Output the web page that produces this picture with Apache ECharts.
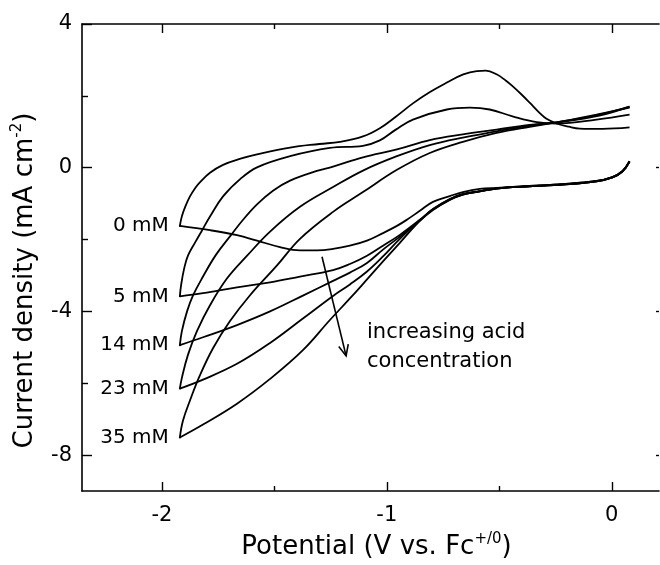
<!DOCTYPE html>
<html>
<head>
<meta charset="utf-8">
<script src="https://cdn.jsdelivr.net/npm/echarts@6/dist/echarts.min.js"></script>
<style>html,body{margin:0;padding:0;background:#fff}#c{width:660px;height:565px}</style>
</head>
<body>
<div id="c"></div>
<script>
const FONT = 'DejaVu Sans';

// ticks
const xTickValues = [-2, -1, 0];
const xMinorTicks = [-1.5, -0.5];
const yTickValues = [-8, -4, 0, 4];
const yMinorTicks = [-6, -2, 2];
const yRightTicks = [-8, -4, 0];

// curve labels
const concentrations = ['0 mM', '5 mM', '14 mM', '23 mM', '35 mM'];

// 0 mM : forward (cathodic) and reverse (anodic) scans
const fwdV_0 = [0.079, 0.047, 0.003, -0.068, -0.219, -0.365, -0.512, -0.587, -0.662, -0.720, -0.795, -0.853, -0.911, -0.955, -1.017, -1.088, -1.164, -1.239, -1.311, -1.386, -1.475, -1.577, -1.666, -1.786, -1.920];
const fwdJ_0 = [0.18, -0.10, -0.26, -0.37, -0.46, -0.51, -0.56, -0.59, -0.68, -0.79, -0.95, -1.20, -1.45, -1.62, -1.82, -2.03, -2.17, -2.26, -2.30, -2.30, -2.21, -2.03, -1.88, -1.74, -1.62];
const revV_0 = [-1.920, -1.911, -1.895, -1.875, -1.850, -1.830, -1.786, -1.728, -1.650, -1.577, -1.430, -1.300, -1.208, -1.106, -1.031, -0.960, -0.884, -0.810, -0.733, -0.660, -0.600, -0.560, -0.512, -0.470, -0.441, -0.400, -0.365, -0.320, -0.290, -0.245, -0.190, -0.143, -0.041, 0.079];
const revJ_0 = [-1.62, -1.35, -1.07, -0.80, -0.55, -0.40, -0.14, 0.08, 0.25, 0.37, 0.56, 0.66, 0.72, 0.87, 1.10, 1.42, 1.79, 2.10, 2.37, 2.60, 2.69, 2.70, 2.60, 2.42, 2.27, 2.03, 1.81, 1.52, 1.36, 1.23, 1.14, 1.09, 1.08, 1.12];

// 5 mM
const fwdV_5 = [0.079, 0.047, 0.003, -0.068, -0.219, -0.365, -0.512, -0.587, -0.662, -0.720, -0.795, -0.853, -0.942, -1.017, -1.088, -1.164, -1.239, -1.386, -1.519, -1.666, -1.817, -1.920];
const fwdJ_5 = [0.18, -0.10, -0.26, -0.37, -0.46, -0.51, -0.57, -0.65, -0.73, -0.87, -1.15, -1.45, -1.87, -2.17, -2.45, -2.68, -2.85, -3.03, -3.19, -3.33, -3.49, -3.58];
const revV_5 = [-1.920, -1.914, -1.901, -1.884, -1.852, -1.821, -1.786, -1.728, -1.652, -1.577, -1.430, -1.253, -1.106, -1.031, -0.960, -0.884, -0.733, -0.631, -0.543, -0.441, -0.334, -0.245, -0.068, 0.079];
const revJ_5 = [-3.58, -3.25, -2.81, -2.45, -2.08, -1.74, -1.36, -0.80, -0.32, 0.01, 0.32, 0.55, 0.61, 0.76, 1.06, 1.34, 1.62, 1.67, 1.62, 1.43, 1.27, 1.23, 1.34, 1.48];

// 14 mM
const fwdV_14 = [0.079, 0.047, 0.003, -0.068, -0.219, -0.365, -0.512, -0.587, -0.662, -0.720, -0.795, -0.853, -0.942, -1.017, -1.088, -1.164, -1.239, -1.373, -1.519, -1.666, -1.817, -1.920];
const fwdJ_14 = [0.17, -0.11, -0.27, -0.38, -0.47, -0.52, -0.58, -0.66, -0.74, -0.88, -1.16, -1.46, -1.92, -2.28, -2.65, -2.92, -3.15, -3.56, -4.00, -4.38, -4.72, -4.94];
const revV_14 = [-1.920, -1.911, -1.888, -1.861, -1.817, -1.759, -1.692, -1.639, -1.577, -1.506, -1.430, -1.311, -1.239, -1.106, -0.955, -0.809, -0.662, -0.512, -0.365, -0.245, -0.068, 0.079];
const revJ_14 = [-4.94, -4.55, -4.00, -3.55, -3.03, -2.42, -1.87, -1.45, -1.02, -0.64, -0.36, -0.09, 0.03, 0.29, 0.51, 0.77, 0.93, 1.06, 1.19, 1.26, 1.48, 1.67];

// 23 mM
const fwdV_23 = [0.079, 0.047, 0.003, -0.068, -0.219, -0.365, -0.512, -0.587, -0.662, -0.720, -0.795, -0.853, -0.942, -1.017, -1.088, -1.164, -1.239, -1.373, -1.519, -1.666, -1.817, -1.920];
const fwdJ_23 = [0.17, -0.11, -0.27, -0.38, -0.47, -0.52, -0.58, -0.66, -0.75, -0.89, -1.17, -1.47, -1.98, -2.47, -2.89, -3.25, -3.57, -4.20, -4.88, -5.46, -5.90, -6.15];
const revV_23 = [-1.920, -1.911, -1.884, -1.844, -1.786, -1.710, -1.621, -1.519, -1.386, -1.239, -1.106, -0.955, -0.809, -0.662, -0.512, -0.365, -0.245, -0.055, 0.079];
const revJ_23 = [-6.15, -5.85, -5.21, -4.55, -3.83, -3.08, -2.45, -1.78, -1.09, -0.54, -0.08, 0.32, 0.63, 0.84, 1.01, 1.17, 1.26, 1.45, 1.70];

// 35 mM
const fwdV_35 = [0.079, 0.047, 0.003, -0.068, -0.219, -0.365, -0.512, -0.587, -0.662, -0.720, -0.795, -0.853, -0.942, -1.017, -1.088, -1.164, -1.253, -1.373, -1.519, -1.666, -1.817, -1.920];
const fwdJ_35 = [0.17, -0.11, -0.27, -0.38, -0.47, -0.52, -0.58, -0.66, -0.75, -0.90, -1.18, -1.48, -2.09, -2.61, -3.11, -3.64, -4.24, -5.08, -5.88, -6.57, -7.15, -7.51];
const revV_35 = [-1.920, -1.906, -1.875, -1.830, -1.772, -1.697, -1.608, -1.488, -1.386, -1.239, -1.106, -0.955, -0.809, -0.662, -0.512, -0.365, -0.245, -0.055, 0.079];
const revJ_35 = [-7.51, -7.04, -6.48, -5.77, -5.02, -4.27, -3.55, -2.72, -1.98, -1.23, -0.68, -0.06, 0.41, 0.72, 0.97, 1.14, 1.26, 1.48, 1.70];

// arrow annotation (potential, current density of tail and head)
const arrowV = [-1.288, -1.181];
const arrowJ = [-2.48, -5.24];
const noteText = 'increasing acid\nconcentration';

const fwdV = [fwdV_0, fwdV_5, fwdV_14, fwdV_23, fwdV_35];
const fwdJ = [fwdJ_0, fwdJ_5, fwdJ_14, fwdJ_23, fwdJ_35];
const revV = [revV_0, revV_5, revV_14, revV_23, revV_35];
const revJ = [revJ_0, revJ_5, revJ_14, revJ_23, revJ_35];

function pairs(v, j) { return v.map((x, i) => [x, j[i]]); }

const lineStyle = { color: '#000', width: 1.8 };
const series = [];
for (let k = 0; k < concentrations.length; k++) {
  series.push({ type: 'line', name: concentrations[k] + ' fwd', data: pairs(fwdV[k], fwdJ[k]),
    showSymbol: false, symbol: 'none', smooth: 0.4, lineStyle, xAxisIndex: 0, yAxisIndex: 0, silent: true });
  series.push({ type: 'line', name: concentrations[k] + ' rev', data: pairs(revV[k], revJ[k]),
    showSymbol: false, symbol: 'none', smooth: 0.4, lineStyle, xAxisIndex: 0, yAxisIndex: 0, silent: true });
}
series.push({
  type: 'scatter', xAxisIndex: 0, yAxisIndex: 0, silent: true,
  data: concentrations.map((n, k) => ({ name: n, value: [fwdV[k][fwdV[k].length - 1], fwdJ[k][fwdJ[k].length - 1]] })),
  symbolSize: 2, itemStyle: { color: '#000', opacity: 1 },
  label: { show: true, position: 'left', distance: 10, formatter: '{b}', fontSize: 20, fontFamily: FONT,
    color: '#000', opacity: 1, textBorderWidth: 0 },
  emphasis: { disabled: true }
});

const axisLineStyle = { color: '#000', width: 1.6 };
const XMIN = -2.355, XMAX = 0.21, YMIN = -9, YMAX = 4;

function xAx(pos, ticks, len, showLine, labels, extra) {
  return Object.assign({
    type: 'value', min: XMIN, max: XMAX, position: pos,
    axisLine: { show: showLine, onZero: false, lineStyle: axisLineStyle },
    axisTick: { show: true, inside: true, length: len, customValues: ticks, lineStyle: { color: '#000', width: 1.4 } },
    axisLabel: labels ? { show: true, customValues: ticks, fontSize: 21, fontFamily: FONT, color: '#000', margin: 14 } : { show: false },
    splitLine: { show: false }, minorTick: { show: false }
  }, extra || {});
}
function yAx(pos, ticks, len, showLine, labels, extra) {
  return Object.assign({
    type: 'value', min: YMIN, max: YMAX, position: pos,
    axisLine: { show: showLine, onZero: false, lineStyle: axisLineStyle },
    axisTick: { show: true, inside: true, length: len, customValues: ticks, lineStyle: { color: '#000', width: 1.4 } },
    axisLabel: labels ? { show: true, customValues: ticks, fontSize: 21, fontFamily: FONT, color: '#000', margin: 10 } : { show: false },
    splitLine: { show: false }, minorTick: { show: false }
  }, extra || {});
}

const option = {
  animation: false,
  backgroundColor: '#fff',
  grid: { left: 82, right: 1, top: 24, bottom: 71, containLabel: false },
  xAxis: [
    xAx('bottom', xTickValues, 9, true, true, {
      name: '{a|Potential (V vs. Fc}{s|+/0}{a|)}', nameLocation: 'middle', nameGap: 41,
      nameTextStyle: { padding: [0, 0, 0, 12], rich: {
        a: { fontSize: 26, fontFamily: FONT, color: '#000', lineHeight: 30 },
        s: { fontSize: 15, fontFamily: FONT, color: '#000', verticalAlign: 'top', lineHeight: 30 } } }
    }),
    xAx('bottom', xMinorTicks, 5, false, false),
    xAx('top', xTickValues, 9, true, false),
    xAx('top', xMinorTicks, 5, false, false)
  ],
  yAxis: [
    yAx('left', yTickValues, 10, true, true, {
      name: '{a|Current density (mA cm}{s|-2}{a|)}', nameLocation: 'middle', nameGap: 42,
      nameTextStyle: { padding: [0, 46, 0, 0], rich: {
        a: { fontSize: 26, fontFamily: FONT, color: '#000', lineHeight: 30 },
        s: { fontSize: 15, fontFamily: FONT, color: '#000', verticalAlign: 'top', lineHeight: 30 } } }
    }),
    yAx('left', yMinorTicks, 6, false, false),
    yAx('right', yRightTicks, 3, false, false)
  ],
  series
};

const chart = echarts.init(document.getElementById('c'), null, { renderer: 'canvas' });
chart.setOption(option);

// arrow and note, positioned through the axes
const finder = { xAxisIndex: 0, yAxisIndex: 0 };
const p0 = chart.convertToPixel(finder, [arrowV[0], arrowJ[0]]);
const p1 = chart.convertToPixel(finder, [arrowV[1], arrowJ[1]]);
const dx = p1[0] - p0[0], dy = p1[1] - p0[1];
const L = Math.hypot(dx, dy), ux = dx / L, uy = dy / L;
const ang = 24 * Math.PI / 180, headLen = 12;
function rot(x, y, a) { return [x * Math.cos(a) - y * Math.sin(a), x * Math.sin(a) + y * Math.cos(a)]; }
const a1 = rot(-ux, -uy, ang), a2 = rot(-ux, -uy, -ang);
const noteAnchor = chart.convertToPixel(finder, [-1.088, -4.18]);

chart.setOption({
  graphic: [
    { type: 'line', silent: true, shape: { x1: p0[0], y1: p0[1], x2: p1[0], y2: p1[1] }, style: { stroke: '#000', lineWidth: 1.6 } },
    { type: 'polyline', silent: true, shape: { points: [[p1[0] + a1[0] * headLen, p1[1] + a1[1] * headLen], [p1[0], p1[1]], [p1[0] + a2[0] * headLen, p1[1] + a2[1] * headLen]] },
      style: { stroke: '#000', lineWidth: 1.6, fill: null } },
    { type: 'text', silent: true, x: noteAnchor[0], y: noteAnchor[1],
      style: { text: noteText, fontSize: 21, fontFamily: FONT, fill: '#000', lineHeight: 29, align: 'left', verticalAlign: 'top' } }
  ]
});
</script>
</body>
</html>
